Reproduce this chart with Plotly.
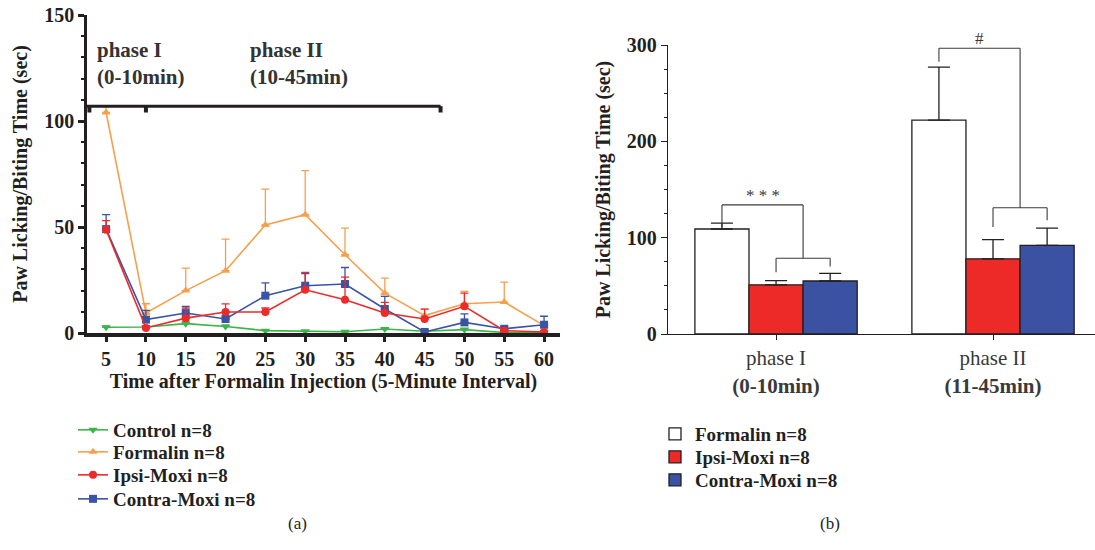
import plotly.graph_objects as go

# ---------------- data (a) ----------------
times = [5, 10, 15, 20, 25, 30, 35, 40, 45, 50, 55, 60]
control = [2.7, 2.8, 4.4, 3.1, 1.1, 0.8, 0.6, 1.9, 0.8, 1.6, 0.2, 0.2]
control_err = [0.5, 0.5, 0.8, 0.6, 0.4, 0.3, 0.3, 0.5, 0.3, 0.4, 0.1, 0.1]
formalin = [104, 9.4, 20, 29.4, 51, 55.8, 36.9, 18.8, 8.2, 13.8, 14.6, 3.5]
formalin_err = [2.8, 4.4, 10.6, 14.9, 16.9, 20.8, 12.6, 7.1, 3.1, 5.8, 9.4, 0.5]
ipsi = [48.7, 2.4, 7.0, 9.9, 9.9, 20.4, 15.7, 9.4, 6.6, 12.6, 1.1, 0.5]
ipsi_err = [4.3, 1.0, 4.8, 3.8, 1.9, 8.2, 10.7, 5.0, 4.7, 6.2, 0.5, 0.3]
contra = [49.0, 6.3, 9.4, 6.6, 17.6, 22.3, 23.1, 11.3, 0.5, 5.0, 2.0, 3.9]
contra_err = [6.8, 4.4, 3.2, 0.8, 6.0, 5.7, 7.8, 6.0, 0.4, 4.0, 1.0, 4.0]

# ---------------- data (b) ----------------
phases = ["phase I<br><b>(0-10min)</b>", "phase II<br><b>(11-45min)</b>"]
bar_formalin = [109, 222]
bar_formalin_err = [6, 55]
bar_ipsi = [51, 78]
bar_ipsi_err = [4.5, 20]
bar_contra = [55, 92]
bar_contra_err = [8, 18]

DARK = "#231f20"
FONT = "Liberation Serif"
GREEN = "#3bb44a"
ORANGE = "#f6a04d"
RED = "#ec2a2a"
BLUE = "#3a53a4"

W, H = 1095, 550
fig = go.Figure()

# one legend box per entry so rows can sit where the reference has them
series = [
    # name, values, errors, colour, symbol, legend id, legend row centre (px)
    ("Control n=8", control, control_err, GREEN, "triangle-down", "legend", 430),
    ("Formalin n=8", formalin, formalin_err, ORANGE, "triangle-up", "legend2", 452),
    ("Contra-Moxi n=8", contra, contra_err, BLUE, "square", "legend4", 499),
    ("Ipsi-Moxi n=8", ipsi, ipsi_err, RED, "circle", "legend3", 475),
]
legend_layout = {}
for name, vals, errs, col, sym, lg, row in series:
    fig.add_trace(go.Scatter(
        x=times, y=vals, name=name, mode="lines+markers",
        line=dict(color=col, width=1.6),
        marker=dict(color=col, symbol=sym, size=8),
        error_y=dict(type="data", array=errs, symmetric=False,
                     arrayminus=[0] * len(errs), color=col,
                     thickness=1.3, width=4),
        xaxis="x", yaxis="y", legend=lg,
    ))
    legend_layout[lg] = dict(
        x=73 / W, y=1 - row / H, xanchor="left", yanchor="middle",
        font=dict(family=FONT, size=19, color=DARK, weight="bold"),
        bgcolor="rgba(0,0,0,0)", itemwidth=30,
    )

bars = [
    ("Formalin n=8", bar_formalin, bar_formalin_err, "white", "legend5", 434),
    ("Ipsi-Moxi n=8", bar_ipsi, bar_ipsi_err, "#ee2a29", "legend6", 457),
    ("Contra-Moxi n=8", bar_contra, bar_contra_err, "#3b52a3", "legend7", 480),
]
for name, vals, errs, col, lg, row in bars:
    fig.add_trace(go.Bar(
        x=[0, 1], y=vals, name=name,
        marker=dict(color=col, line=dict(color=DARK, width=1.3)),
        error_y=dict(type="data", array=errs, symmetric=False,
                     arrayminus=[0, 0], color=DARK, thickness=1.3, width=11),
        xaxis="x2", yaxis="y2", legend=lg,
    ))
    legend_layout[lg] = dict(
        x=655 / W, y=1 - row / H, xanchor="left", yanchor="middle",
        font=dict(family=FONT, size=19, color=DARK, weight="bold"),
        bgcolor="rgba(0,0,0,0)", itemwidth=30,
    )

ydom = [1 - 333 / H, 1 - 15 / H]
ydom2 = [1 - 334 / H, 1 - 45 / H]

tick_font = dict(family=FONT, size=20, color=DARK)
title_font = dict(family=FONT, size=20, color=DARK)

fig.update_layout(
    width=W, height=H,
    margin=dict(l=0, r=0, t=0, b=0, pad=0, autoexpand=False),
    paper_bgcolor="white", plot_bgcolor="white",
    font=dict(family=FONT, color=DARK),
    barmode="group", bargap=0.252, bargroupgap=0,
    xaxis=dict(
        domain=[87 / W, 560 / W], range=[2.6, 62],
        tickvals=times, ticktext=[f"<b>{t}</b>" for t in times],
        tickfont=tick_font, showgrid=False, zeroline=False,
        showline=True, linecolor=DARK, linewidth=3.5,
        ticks="outside", ticklen=5, tickwidth=2.5, tickcolor=DARK,
        title=dict(text="<b>Time after Formalin Injection (5-Minute Interval)</b>",
                   font=title_font, standoff=6),
        anchor="y",
    ),
    yaxis=dict(
        domain=ydom, range=[0, 150], tickvals=[0, 50, 100, 150],
        ticktext=["<b>0</b>", "<b>50</b>", "<b>100</b>", "<b>150</b>"],
        tickfont=tick_font, showgrid=False, zeroline=False,
        showline=True, linecolor=DARK, linewidth=2.5,
        ticks="outside", ticklen=6, tickwidth=2.5, tickcolor=DARK,
        minor=dict(dtick=10, ticks="outside", ticklen=3, tickwidth=1.5, tickcolor=DARK),
        title=dict(text="<b>Paw Licking/Biting Time (sec)</b>",
                   font=title_font, standoff=12),
        anchor="x",
    ),
    xaxis2=dict(
        domain=[668 / W, 1.0], range=[-0.498, 1.47],
        tickvals=[0, 1], ticktext=phases,
        tickfont=dict(family=FONT, size=21, color="#3a3a3a"),
        showgrid=False, zeroline=False, showline=True, linecolor=DARK, linewidth=1.3,
        ticks="outside", ticklen=5, tickwidth=1.3, tickcolor=DARK,
        anchor="y2",
    ),
    yaxis2=dict(
        domain=ydom2, range=[0, 300], tickvals=[0, 100, 200, 300],
        ticktext=["<b>0</b>", "<b>100</b>", "<b>200</b>", "<b>300</b>"],
        tickfont=tick_font, showgrid=False, zeroline=False,
        showline=True, linecolor=DARK, linewidth=1.3,
        ticks="outside", ticklen=6, tickwidth=1.3, tickcolor=DARK,
        minor=dict(dtick=25, ticks="outside", ticklen=3, tickwidth=1, tickcolor=DARK),
        title=dict(text="<b>Paw Licking/Biting Time (sec)</b>",
                   font=title_font, standoff=10),
        anchor="x2",
    ),
    showlegend=True,
    **legend_layout,
)

shapes = []
# phase bracket in (a)
br_y = 107
shapes.append(dict(type="line", xref="x", yref="y", x0=2.6, x1=47, y0=br_y, y1=br_y,
                   line=dict(color=DARK, width=3)))
for xx in [2.9, 10, 47]:
    shapes.append(dict(type="line", xref="x", yref="y", x0=xx, x1=xx, y0=br_y, y1=br_y - 3,
                       line=dict(color=DARK, width=4)))

# significance brackets in (b)
w = (1 - 0.252) / 3
def center(cat, idx):
    return cat + (idx - 1) * w

sig = [
    # (cat, top, left_leg_bottom, sub_level, sub_left_bottom, sub_right_bottom, label)
    (0, 134, 111, 78.7, 64, 70, "* * *"),
    (1, 296.6, 282.7, 131, 111, 118, "#"),
]
lc = dict(color="#3a3a3a", width=1.1)
annotations = []
for cat, top, lb, sub, slb, srb, lab in sig:
    xl = center(cat, 0)
    xr = cat + w / 2
    shapes += [
        dict(type="line", xref="x2", yref="y2", x0=xl, x1=xl, y0=lb, y1=top, line=lc),
        dict(type="line", xref="x2", yref="y2", x0=xl, x1=xr, y0=top, y1=top, line=lc),
        dict(type="line", xref="x2", yref="y2", x0=xr, x1=xr, y0=top, y1=sub, line=lc),
        dict(type="line", xref="x2", yref="y2", x0=center(cat, 1), x1=center(cat, 2), y0=sub, y1=sub, line=lc),
        dict(type="line", xref="x2", yref="y2", x0=center(cat, 1), x1=center(cat, 1), y0=sub, y1=slb, line=lc),
        dict(type="line", xref="x2", yref="y2", x0=center(cat, 2), x1=center(cat, 2), y0=sub, y1=srb, line=lc),
    ]
    annotations.append(dict(xref="x2", yref="y2", x=(xl + xr) / 2, y=top, text=lab,
                            showarrow=False, yanchor="bottom", yshift=-2,
                            font=dict(family=FONT, size=17, color="#3a3a3a")))

annotations += [
    dict(xref="x", yref="y", x=3.6, y=127, xanchor="left", yanchor="middle",
         text="<b>phase I<br>(0-10min)</b>", align="left", showarrow=False,
         font=dict(family=FONT, size=21, color="#333333")),
    dict(xref="x", yref="y", x=22.8, y=127, xanchor="left", yanchor="middle",
         text="<b>phase II<br>(10-45min)</b>", align="left", showarrow=False,
         font=dict(family=FONT, size=21, color="#333333")),
    dict(xref="paper", yref="paper", x=286 / W, y=1 - 535 / H, text="(a)",
         showarrow=False, font=dict(family=FONT, size=17, color=DARK)),
    dict(xref="paper", yref="paper", x=842 / W, y=1 - 535 / H, text="(b)",
         showarrow=False, font=dict(family=FONT, size=17, color=DARK)),
]

fig.update_layout(shapes=shapes, annotations=annotations)
fig.write_html("out.html", config={"displayModeBar": False},
               post_script="document.body.style.margin='0';")
